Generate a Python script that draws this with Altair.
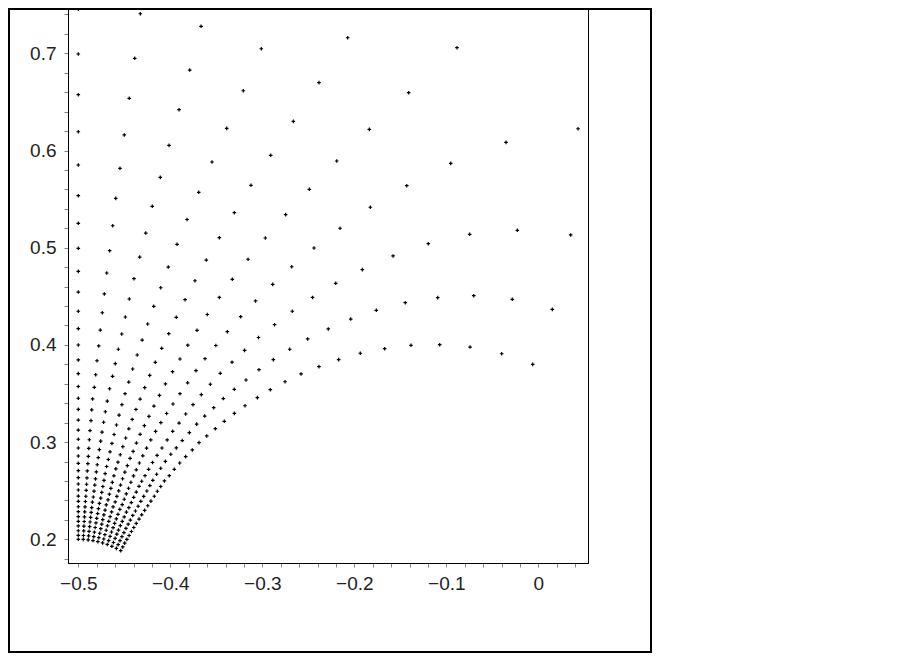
import altair as alt
import pandas as pd

# Points, one list per ray (ray 1 = lowest ray, ray 10 = vertical at x=-0.5),
# ordered from the innermost ring outwards.
RAY_01_X = [-0.4539, -0.4517, -0.4496, -0.4472, -0.4448, -0.4423, -0.4397, -0.4370, -0.4340, -0.4311,
            -0.4279, -0.4245, -0.4211, -0.4174, -0.4141, -0.4104, -0.4064, -0.4011, -0.3957, -0.3898,
            -0.3833, -0.3761, -0.3688, -0.3604, -0.3511, -0.3413, -0.3304, -0.3188, -0.3054, -0.2913,
            -0.2753, -0.2579, -0.2384, -0.2170, -0.1935, -0.1670, -0.1384, -0.1072, -0.0742, -0.0398,
            -0.0061]
RAY_01_Y = [0.1883, 0.1921, 0.1960, 0.1999, 0.2039, 0.2080, 0.2121, 0.2164, 0.2208, 0.2252,
            0.2297, 0.2345, 0.2393, 0.2443, 0.2494, 0.2543, 0.2600, 0.2654, 0.2720, 0.2785,
            0.2850, 0.2919, 0.2994, 0.3063, 0.3138, 0.3214, 0.3296, 0.3374, 0.3457, 0.3539,
            0.3621, 0.3701, 0.3776, 0.3848, 0.3914, 0.3961, 0.3996, 0.4002, 0.3978, 0.3909,
            0.3800]

RAY_02_X = [-0.4586, -0.4567, -0.4547, -0.4526, -0.4504, -0.4482, -0.4458, -0.4434, -0.4408, -0.4379,
            -0.4350, -0.4320, -0.4289, -0.4255, -0.4222, -0.4190, -0.4149, -0.4104, -0.4054, -0.3995,
            -0.3935, -0.3870, -0.3793, -0.3713, -0.3626, -0.3528, -0.3424, -0.3305, -0.3177, -0.3036,
            -0.2880, -0.2702, -0.2507, -0.2283, -0.2039, -0.1761, -0.1446, -0.1093, -0.0702, -0.0283,
            0.0152]
RAY_02_Y = [0.1907, 0.1945, 0.1986, 0.2027, 0.2069, 0.2112, 0.2155, 0.2198, 0.2245, 0.2291,
            0.2340, 0.2391, 0.2442, 0.2497, 0.2553, 0.2607, 0.2669, 0.2731, 0.2802, 0.2875,
            0.2940, 0.3016, 0.3097, 0.3185, 0.3268, 0.3354, 0.3448, 0.3543, 0.3639, 0.3745,
            0.3848, 0.3955, 0.4061, 0.4164, 0.4266, 0.4356, 0.4434, 0.4486, 0.4506, 0.4469,
            0.4366]

RAY_03_X = [-0.4635, -0.4618, -0.4600, -0.4581, -0.4563, -0.4543, -0.4522, -0.4501, -0.4477, -0.4450,
            -0.4424, -0.4398, -0.4370, -0.4340, -0.4311, -0.4275, -0.4236, -0.4193, -0.4144, -0.4091,
            -0.4034, -0.3974, -0.3905, -0.3833, -0.3753, -0.3663, -0.3565, -0.3457, -0.3329, -0.3193,
            -0.3041, -0.2867, -0.2674, -0.2454, -0.2202, -0.1913, -0.1579, -0.1196, -0.0746, -0.0228,
            0.0352]
RAY_03_Y = [0.1928, 0.1967, 0.2009, 0.2053, 0.2095, 0.2140, 0.2184, 0.2230, 0.2279, 0.2326,
            0.2378, 0.2432, 0.2486, 0.2545, 0.2597, 0.2654, 0.2720, 0.2790, 0.2863, 0.2939,
            0.3022, 0.3111, 0.3196, 0.3289, 0.3385, 0.3488, 0.3595, 0.3708, 0.3822, 0.3944,
            0.4076, 0.4208, 0.4346, 0.4488, 0.4634, 0.4774, 0.4915, 0.5041, 0.5138, 0.5179,
            0.5131]

RAY_04_X = [-0.4685, -0.4670, -0.4655, -0.4639, -0.4622, -0.4605, -0.4587, -0.4569, -0.4549, -0.4523,
            -0.4501, -0.4478, -0.4454, -0.4428, -0.4400, -0.4370, -0.4336, -0.4299, -0.4258, -0.4212,
            -0.4160, -0.4103, -0.4040, -0.3971, -0.3895, -0.3812, -0.3721, -0.3623, -0.3505, -0.3380,
            -0.3235, -0.3074, -0.2887, -0.2680, -0.2438, -0.2155, -0.1826, -0.1430, -0.0952, -0.0351,
            0.0432]
RAY_04_Y = [0.1947, 0.1986, 0.2030, 0.2075, 0.2119, 0.2164, 0.2210, 0.2257, 0.2308, 0.2357,
            0.2412, 0.2467, 0.2525, 0.2587, 0.2652, 0.2715, 0.2785, 0.2859, 0.2938, 0.3022,
            0.3110, 0.3200, 0.3294, 0.3392, 0.3498, 0.3610, 0.3735, 0.3858, 0.3994, 0.4136,
            0.4290, 0.4452, 0.4623, 0.4804, 0.4997, 0.5200, 0.5416, 0.5638, 0.5868, 0.6084,
            0.6224]

RAY_05_X = [-0.4736, -0.4723, -0.4711, -0.4697, -0.4683, -0.4669, -0.4654, -0.4638, -0.4622, -0.4599,
            -0.4581, -0.4561, -0.4541, -0.4519, -0.4494, -0.4467, -0.4437, -0.4404, -0.4368, -0.4328,
            -0.4282, -0.4232, -0.4178, -0.4118, -0.4053, -0.3976, -0.3895, -0.3810, -0.3710, -0.3598,
            -0.3467, -0.3326, -0.3155, -0.2967, -0.2746, -0.2489, -0.2191, -0.1837, -0.1409, -0.0884]
RAY_05_Y = [0.1963, 0.2003, 0.2047, 0.2093, 0.2139, 0.2185, 0.2233, 0.2281, 0.2333, 0.2384,
            0.2441, 0.2498, 0.2558, 0.2623, 0.2691, 0.2758, 0.2832, 0.2905, 0.2990, 0.3080,
            0.3169, 0.3265, 0.3371, 0.3481, 0.3598, 0.3724, 0.3855, 0.3997, 0.4150, 0.4313,
            0.4488, 0.4675, 0.4881, 0.5100, 0.5340, 0.5601, 0.5892, 0.6218, 0.6595, 0.7058]

RAY_06_X = [-0.4787, -0.4777, -0.4767, -0.4756, -0.4745, -0.4734, -0.4722, -0.4709, -0.4696, -0.4677,
            -0.4662, -0.4646, -0.4630, -0.4613, -0.4592, -0.4569, -0.4544, -0.4516, -0.4485, -0.4451,
            -0.4414, -0.4373, -0.4328, -0.4278, -0.4224, -0.4163, -0.4093, -0.4017, -0.3935, -0.3840,
            -0.3732, -0.3609, -0.3467, -0.3304, -0.3123, -0.2909, -0.2663, -0.2384, -0.2072]
RAY_06_Y = [0.1976, 0.2017, 0.2062, 0.2109, 0.2155, 0.2202, 0.2251, 0.2300, 0.2354, 0.2406,
            0.2464, 0.2524, 0.2585, 0.2653, 0.2724, 0.2793, 0.2870, 0.2953, 0.3042, 0.3137,
            0.3233, 0.3336, 0.3443, 0.3560, 0.3686, 0.3821, 0.3965, 0.4115, 0.4284, 0.4465,
            0.4660, 0.4873, 0.5103, 0.5360, 0.5642, 0.5951, 0.6300, 0.6698, 0.7160]

RAY_07_X = [-0.4840, -0.4832, -0.4825, -0.4817, -0.4808, -0.4800, -0.4790, -0.4781, -0.4771, -0.4756,
            -0.4745, -0.4733, -0.4721, -0.4708, -0.4692, -0.4674, -0.4655, -0.4634, -0.4611, -0.4585,
            -0.4557, -0.4526, -0.4492, -0.4452, -0.4409, -0.4360, -0.4306, -0.4246, -0.4180, -0.4104,
            -0.4022, -0.3927, -0.3818, -0.3691, -0.3547, -0.3387, -0.3207, -0.3011]
RAY_07_Y = [0.1987, 0.2027, 0.2073, 0.2121, 0.2168, 0.2216, 0.2265, 0.2315, 0.2370, 0.2423,
            0.2483, 0.2543, 0.2606, 0.2676, 0.2749, 0.2821, 0.2900, 0.2986, 0.3078, 0.3176,
            0.3278, 0.3385, 0.3498, 0.3618, 0.3752, 0.3896, 0.4050, 0.4215, 0.4397, 0.4588,
            0.4801, 0.5035, 0.5290, 0.5570, 0.5882, 0.6228, 0.6615, 0.7047]

RAY_08_X = [-0.4893, -0.4888, -0.4883, -0.4877, -0.4872, -0.4866, -0.4860, -0.4854, -0.4847, -0.4837,
            -0.4829, -0.4821, -0.4813, -0.4804, -0.4794, -0.4783, -0.4771, -0.4757, -0.4742, -0.4725,
            -0.4706, -0.4685, -0.4660, -0.4628, -0.4598, -0.4565, -0.4528, -0.4489, -0.4446, -0.4395,
            -0.4333, -0.4267, -0.4196, -0.4109, -0.4014, -0.3905, -0.3789, -0.3666]
RAY_08_Y = [0.1994, 0.2035, 0.2081, 0.2130, 0.2178, 0.2225, 0.2276, 0.2326, 0.2382, 0.2435,
            0.2496, 0.2558, 0.2622, 0.2693, 0.2767, 0.2841, 0.2922, 0.3010, 0.3103, 0.3204,
            0.3312, 0.3422, 0.3549, 0.3677, 0.3807, 0.3955, 0.4112, 0.4287, 0.4472, 0.4681,
            0.4904, 0.5151, 0.5426, 0.5724, 0.6053, 0.6420, 0.6828, 0.7278]

RAY_09_X = [-0.4946, -0.4944, -0.4941, -0.4939, -0.4936, -0.4933, -0.4930, -0.4927, -0.4923, -0.4918,
            -0.4914, -0.4910, -0.4906, -0.4902, -0.4896, -0.4891, -0.4886, -0.4880, -0.4873, -0.4862,
            -0.4854, -0.4845, -0.4826, -0.4811, -0.4797, -0.4778, -0.4761, -0.4739, -0.4717, -0.4691,
            -0.4659, -0.4626, -0.4593, -0.4547, -0.4500, -0.4446, -0.4387, -0.4326]
RAY_09_Y = [0.1999, 0.2039, 0.2086, 0.2135, 0.2183, 0.2231, 0.2282, 0.2333, 0.2389, 0.2443,
            0.2504, 0.2566, 0.2631, 0.2703, 0.2778, 0.2853, 0.2935, 0.3024, 0.3119, 0.3221,
            0.3331, 0.3444, 0.3564, 0.3693, 0.3837, 0.3989, 0.4153, 0.4331, 0.4524, 0.4740,
            0.4969, 0.5226, 0.5508, 0.5817, 0.6160, 0.6537, 0.6949, 0.7407]

RAY_10_X = [-0.5, -0.5, -0.5, -0.5, -0.5, -0.5, -0.5, -0.5, -0.5, -0.5,
            -0.5, -0.5, -0.5, -0.5, -0.5, -0.5, -0.5, -0.5, -0.5, -0.5,
            -0.5, -0.5, -0.5, -0.5, -0.5, -0.5, -0.5, -0.5, -0.5, -0.5,
            -0.5, -0.5, -0.5, -0.5, -0.5, -0.5, -0.5, -0.5]
RAY_10_Y = [0.2000, 0.2041, 0.2088, 0.2137, 0.2185, 0.2233, 0.2284, 0.2335, 0.2391, 0.2445,
            0.2507, 0.2569, 0.2634, 0.2706, 0.2782, 0.2857, 0.2939, 0.3029, 0.3124, 0.3227,
            0.3337, 0.3451, 0.3572, 0.3704, 0.3845, 0.3999, 0.4167, 0.4346, 0.4544, 0.4757,
            0.4994, 0.5251, 0.5535, 0.5851, 0.6193, 0.6574, 0.6993, 0.7453]

RAYS = [(RAY_01_X, RAY_01_Y), (RAY_02_X, RAY_02_Y), (RAY_03_X, RAY_03_Y), (RAY_04_X, RAY_04_Y),
        (RAY_05_X, RAY_05_Y), (RAY_06_X, RAY_06_Y), (RAY_07_X, RAY_07_Y), (RAY_08_X, RAY_08_Y),
        (RAY_09_X, RAY_09_Y), (RAY_10_X, RAY_10_Y)]

X_DOMAIN = [-0.5112, 0.0540]
Y_DOMAIN = [0.1756, 0.7456]
X_TICKS = [round(-0.50 + 0.02 * i, 2) for i in range(28)]   # -0.50 ... 0.04
Y_TICKS = [round(0.18 + 0.02 * i, 2) for i in range(29)]    # 0.18 ... 0.74

rows = []
for r, (xs, ys) in enumerate(RAYS, start=1):
    for k, (x, y) in enumerate(zip(xs, ys), start=1):
        rows.append({"ray": r, "ring": k, "x": x, "y": y})
df = pd.DataFrame(rows)

label_expr = "abs(datum.value * 10 - round(datum.value * 10)) < 0.001 ? format(datum.value, '~g') : ''"

points = alt.Chart(df).mark_point(
    shape="M-1,0L1,0M0,-1L0,1", size=13, strokeWidth=1.2, color="black",
    filled=False, opacity=1
).encode(
    x=alt.X("x:Q", scale=alt.Scale(domain=X_DOMAIN, nice=False, zero=False),
            axis=alt.Axis(title=None, values=X_TICKS, labelExpr=label_expr,
                          labelOverlap=False, labelPadding=7)),
    y=alt.Y("y:Q", scale=alt.Scale(domain=Y_DOMAIN, nice=False, zero=False),
            axis=alt.Axis(title=None, values=Y_TICKS, labelExpr=label_expr,
                          labelOverlap=False, labelPadding=8)),
)

frame = alt.Chart(pd.DataFrame({"f": [0]})).mark_rect(
    fillOpacity=0, stroke="black", strokeWidth=2
).encode(
    x=alt.value(-59), x2=alt.value(583), y=alt.value(0), y2=alt.value(643)
)

chart = alt.layer(points, frame).properties(
    width=520, height=554,
    padding={"left": 60, "top": 1, "right": 72, "bottom": 92},
    autosize=alt.AutoSizeParams(type="none"),
    background="white",
).configure_view(
    stroke="black", strokeWidth=1
).configure_axis(
    grid=False, domainColor="black", domainWidth=1,
    tickColor="#808080", tickSize=4, tickWidth=1,
    labelFont="Liberation Sans", labelFontSize=19, labelColor="#222222",
)

chart.save("out.html", embed_options={"renderer": "svg", "actions": False})
